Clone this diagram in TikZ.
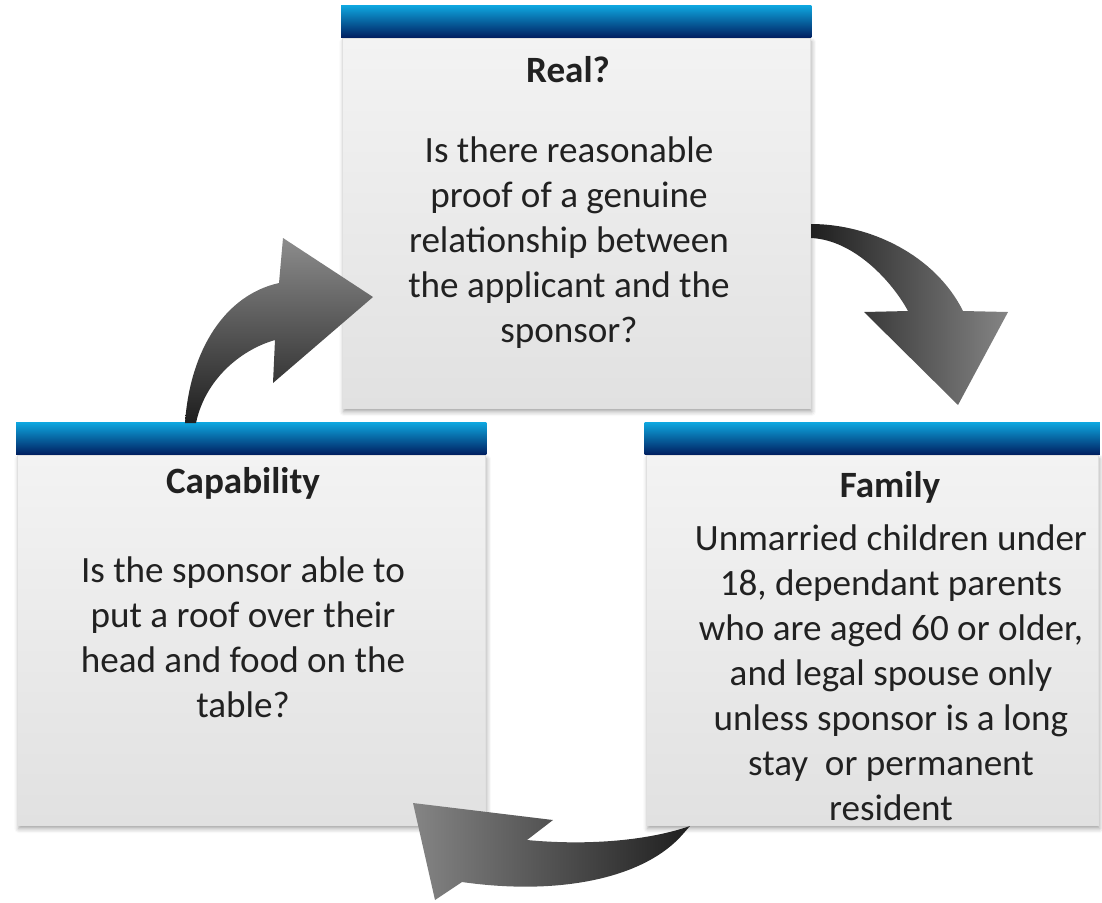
\documentclass[tikz,border=0pt]{standalone}
\usepackage{fontspec}
\setmainfont{Carlito}
\usetikzlibrary{positioning, shadows.blur}

\definecolor{barTop}{RGB}{14,165,222}
\definecolor{barMid}{RGB}{0,100,170}
\definecolor{barBottom}{RGB}{0,30,95}
\definecolor{panelTop}{RGB}{243,243,243}
\definecolor{panelBottom}{RGB}{225,225,225}
\definecolor{ink}{RGB}{33,33,33}

\begin{document}
\begin{tikzpicture}[x=0.025cm, y=-0.025cm,
  bar/.style={rectangle, inner sep=0, minimum width=11.75cm, minimum height=0.8cm,
    top color=barTop, middle color=barMid, bottom color=barBottom},
  panel/.style={rectangle, inner sep=0, minimum width=11.7cm, minimum height=9.25cm,
    top color=panelTop, bottom color=panelBottom, draw=black!12, line width=0.3pt,
    anchor=north west,
    blur shadow={shadow xshift=1pt, shadow yshift=-2.5pt, shadow blur radius=3pt, shadow opacity=35}},
  heading/.style={font=\fontsize{26.4}{32}\selectfont\bfseries, text=ink, inner sep=0, anchor=base},
  % base of a multi-line node = baseline of its last line
  body/.style={font=\fontsize{26.4}{32}\selectfont, text=ink, align=center, inner sep=0, anchor=base},
  pointer/.style={draw=none}
]

\useasboundingbox (0,0) rectangle (1102,902) ;

% boxes
\node[panel] (real) at (342,38) {} ;
\node[bar, above=0pt of real] (realbar) {} ;
\node[panel] (capability) at (17,455) {} ;
\node[bar, above=0pt of capability] (capabilitybar) {} ;
\node[panel, minimum width=11.3cm] (family) at (646,455) {} ;
\node[bar, minimum width=11.38cm, above=0pt of family] (familybar) {} ;

% texts
\node[heading] (realtitle) at (568,82) {Real?} ;
\node[body] (realtext) at (569,342)
  {Is there reasonable\\proof of a genuine\\relationship between\\the applicant and the\\sponsor?} ;

\node[heading] (capabilitytitle) at (243,493) {Capability} ;
\node[body] (capabilitytext) at (243,717)
  {Is the sponsor able to\\put a roof over their\\head and food on the\\table?} ;

\node[heading] (familytitle) at (890,497) {Family} ;
\node[body] (familytext) at (891,820)
  {Unmarried children under\\18, dependant parents\\who are aged 60 or older,\\and legal spouse only\\unless sponsor is a long\\stay\ \ or permanent\\resident} ;

% capability -> real
\path[pointer, top color=black!45, bottom color=black!88]
  (185,423) .. controls (190,350) and (225,295) .. (279,283)
  -- (283,238) -- (373,297) -- (273,383) -- (275,340)
  .. controls (240,350) and (205,380) .. (196,423) -- cycle ;

% real -> family
\path[pointer, left color=black!88, right color=black!48]
  (811,224) .. controls (870,224) and (935,255) .. (963,311)
  -- (1008,312) -- (958,405) -- (864,312) -- (908,311)
  .. controls (893,283) and (855,240) .. (811,238) -- cycle ;

% family -> capability
\path[pointer, left color=black!48, right color=black!88]
  (413,803) -- (553,820) -- (527,840)
  .. controls (590,846) and (650,840) .. (690,826)
  -- (683,834) .. controls (645,878) and (560,896) .. (462,882)
  -- (435,900) -- cycle ;

\end{tikzpicture}
\end{document}
